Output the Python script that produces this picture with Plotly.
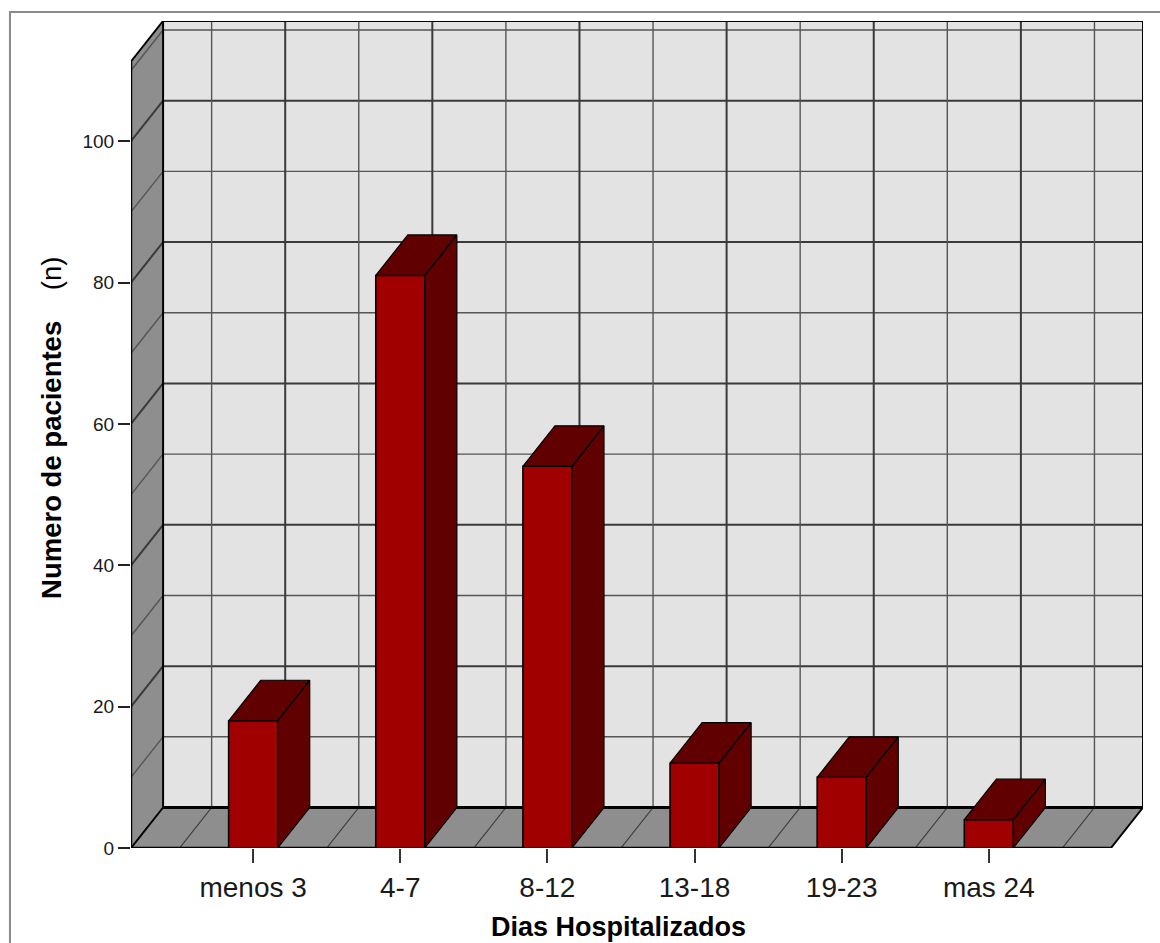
import plotly.graph_objects as go

# Datos: pacientes por días de hospitalización
categorias = ["menos 3", "4-7", "8-12", "13-18", "19-23", "mas 24"]
pacientes = [18, 81, 54, 12, 10, 4]
ticks_y = [0, 20, 40, 60, 80, 100]

# Colores
ROJO_FRENTE = "#A00000"
ROJO_SOMBRA = "#600000"
PARED = "#E3E3E3"
SUELO = "#8E8E8E"
REJILLA = "#3A3A3A"

# Geometría de la caja 3D (unidades de categoría / de valor)
X_LO, X_HI = -0.83, 5.83          # borde frontal del suelo
DX, DY = 0.218, 5.73              # desplazamiento de profundidad
Y_TOP = 117.0                     # borde superior de la pared del fondo
ANCHO = 1 / 3                     # ancho de cada barra

n = len(categorias)
xs = list(range(n))

fig = go.Figure()

shapes = []


def linea(x0, y0, x1, y1, color="black", w=2.0):
    shapes.append(dict(type="line", x0=x0, y0=y0, x1=x1, y1=y1, xref="x", yref="y",
                       line=dict(color=color, width=w), layer="below"))


def poligono(pts, fill):
    path = "M " + " L ".join(f"{x},{y}" for x, y in pts) + " Z"
    shapes.append(dict(type="path", path=path, xref="x", yref="y",
                       fillcolor=fill, line=dict(width=0), layer="below"))


# Pared del fondo, panel lateral y suelo
poligono([(X_LO + DX, DY), (X_HI + DX, DY), (X_HI + DX, Y_TOP), (X_LO + DX, Y_TOP)], PARED)
poligono([(X_LO, 0), (X_LO + DX, DY), (X_LO + DX, Y_TOP), (X_LO, Y_TOP - DY)], SUELO)
poligono([(X_LO, 0), (X_HI, 0), (X_HI + DX, DY), (X_LO + DX, DY)], SUELO)

# Rejilla horizontal de la pared y diagonales del panel lateral
for v in range(10, 111, 10):
    mayor = v % 20 == 0
    c = REJILLA if mayor else "#555555"
    w = 2.0 if mayor else 1.4
    linea(X_LO + DX, v + DY, X_HI + DX, v + DY, c, w)
    linea(X_LO, v, X_LO + DX, v + DY, c, w)

# Rejilla vertical de la pared: centros de categoría y límites
for k in range(2 * n + 1):
    xv = -0.5 + k * 0.5
    mayor = k % 2 == 1
    linea(xv + DX, DY, xv + DX, Y_TOP, REJILLA if mayor else "#555555", 2.0 if mayor else 1.4)

# Diagonales del suelo en los límites de categoría
for k in range(n + 1):
    xb = -0.5 + k
    linea(xb, 0, xb + DX, DY, "#3A3A3A", 1.2)

# Aristas de la caja
linea(X_LO + DX, Y_TOP, X_HI + DX, Y_TOP, "black", 2)
linea(X_HI + DX, DY, X_HI + DX, Y_TOP, "black", 2)
linea(X_LO + DX, DY, X_LO + DX, Y_TOP, "black", 2)
linea(X_LO, 0, X_LO, Y_TOP - DY, "black", 2.5)
linea(X_LO, Y_TOP - DY, X_LO + DX, Y_TOP, "black", 2)
linea(X_LO, 0, X_LO + DX, DY, "black", 2)
linea(X_LO + DX, DY, X_HI + DX, DY, "black", 3)
linea(X_LO, 0, X_HI, 0, "black", 2.5)
linea(X_HI, 0, X_HI + DX, DY, "black", 2)

# Marco exterior del gráfico
shapes.append(dict(type="rect", xref="paper", yref="paper",
                   x0=-0.1196, y0=-0.3, x1=1.3, y1=1.0109,
                   line=dict(color="#8A8A8A", width=2), fillcolor="rgba(0,0,0,0)", layer="below"))

# Caras frontales de las barras
fig.add_trace(go.Bar(
    x=xs, y=pacientes, width=ANCHO,
    marker=dict(color=ROJO_FRENTE, line=dict(color="black", width=1.5)),
    hoverinfo="skip", showlegend=False,
))

# Caras superior y lateral de cada barra
px, py = [], []
for c, v in zip(xs, pacientes):
    l, r = c - ANCHO / 2, c + ANCHO / 2
    # lateral
    px += [r, r + DX, r + DX, r, r, None]
    py += [0, DY, v + DY, v, 0, None]
    # superior
    px += [l, r, r + DX, l + DX, l, None]
    py += [v, v, v + DY, v + DY, v, None]
fig.add_trace(go.Scatter(
    x=px, y=py, mode="lines", fill="toself", fillcolor=ROJO_SOMBRA,
    line=dict(color="black", width=1.2), hoverinfo="skip", showlegend=False,
))

FUENTE = "Liberation Sans, Arial, sans-serif"

fig.update_layout(
    width=1160, height=943, autosize=False,
    margin=dict(l=131, r=17, t=21, b=95),
    paper_bgcolor="white", plot_bgcolor="white",
    shapes=shapes,
    font=dict(family=FUENTE, color="#1A1A1A"),
    xaxis=dict(
        range=[X_LO, X_HI + DX], tickvals=xs, ticktext=categorias,
        showgrid=False, zeroline=False, showline=False,
        ticks="outside", ticklen=14, tickwidth=2, tickcolor="#333333",
        tickfont=dict(size=28, color="#1A1A1A", family=FUENTE),
        fixedrange=True,
    ),
    yaxis=dict(
        range=[0, Y_TOP], tickvals=ticks_y,
        showgrid=False, zeroline=False, showline=False,
        ticks="outside", ticklen=12, tickwidth=2, tickcolor="#222222",
        tickfont=dict(size=19, color="#1A1A1A", family=FUENTE),
        fixedrange=True,
    ),
    annotations=[
        dict(text="<b>Dias Hospitalizados</b>", xref="paper", yref="paper",
             x=0.482, y=-0.0955, xanchor="center", yanchor="middle", showarrow=False,
             font=dict(size=27, color="black", family=FUENTE)),
        dict(text="<b>Numero de pacientes</b>\u00a0\u00a0\u00a0\u00a0(n)", xref="paper", yref="paper",
             x=-0.078, y=0.508, xanchor="center", yanchor="middle", showarrow=False,
             textangle=-90, font=dict(size=27.5, color="black", family=FUENTE)),
    ],
)

fig.write_html("out.html")
